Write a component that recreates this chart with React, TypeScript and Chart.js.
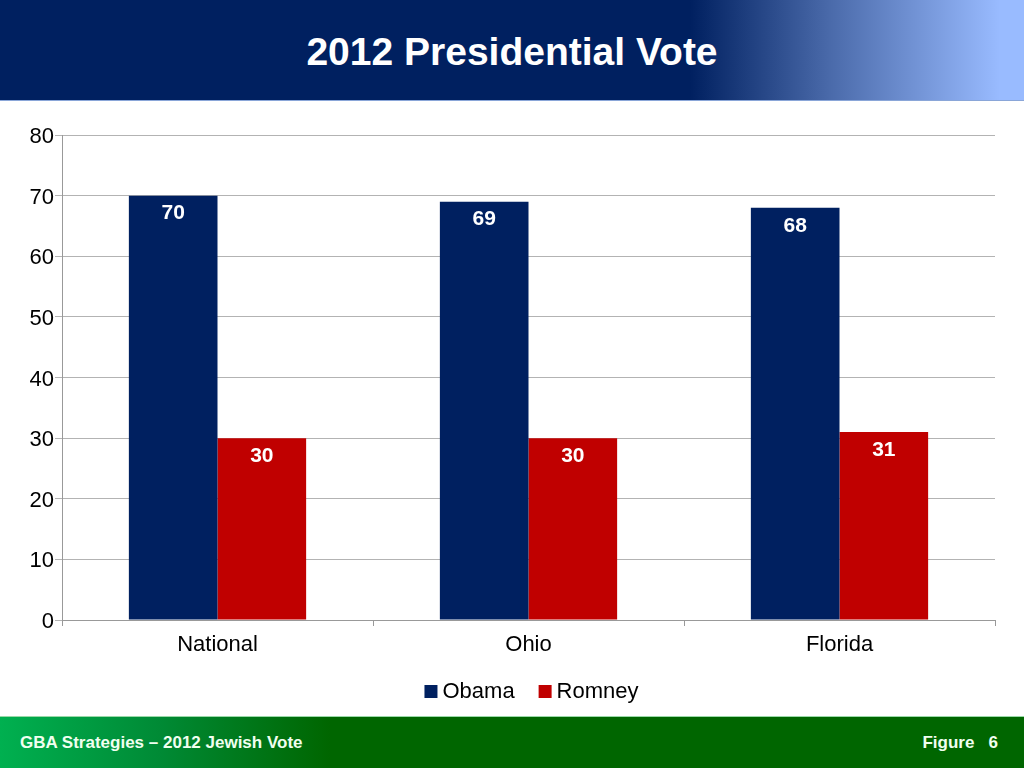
import React, { useEffect, useRef } from "react";
import { Chart, registerables } from "chart.js";

Chart.register(...registerables);

const title = "2012 Presidential Vote";
const categories = ["National", "Ohio", "Florida"];
const seriesNames = ["Obama", "Romney"];
const seriesColors = ["#002060", "#C00000"];
const obamaValues = [70, 69, 68];
const romneyValues = [30, 30, 31];
const yTicks = [0, 10, 20, 30, 40, 50, 60, 70, 80];
const footerLeft = "GBA Strategies – 2012 Jewish Vote";
const footerRight = "Figure   6";

const FONT = "'Liberation Sans', Arial, sans-serif";

const valueLabels = {
  id: "valueLabels",
  afterDatasetsDraw(chart: any) {
    const ctx = chart.ctx;
    ctx.save();
    ctx.fillStyle = "#ffffff";
    ctx.font = "bold 21px " + FONT;
    ctx.textAlign = "center";
    ctx.textBaseline = "middle";
    chart.data.datasets.forEach((ds: any, di: number) => {
      const meta = chart.getDatasetMeta(di);
      meta.data.forEach((bar: any, i: number) => {
        ctx.fillText(String(ds.data[i]), bar.x, bar.y + 18);
      });
    });
    ctx.restore();
  },
};

const customLegend = {
  id: "customLegend",
  afterDraw(chart: any) {
    const ctx = chart.ctx;
    const area = chart.chartArea;
    ctx.save();
    ctx.font = "22px " + FONT;
    ctx.textBaseline = "middle";
    ctx.textAlign = "left";
    const box = 13;
    const gap = 5;
    const itemGap = 24;
    const items = chart.data.datasets.map((ds: any) => ({
      text: ds.label,
      color: ds.backgroundColor,
      w: box + gap + ctx.measureText(ds.label).width,
    }));
    const total =
      items.reduce((a: number, it: any) => a + it.w, 0) + itemGap * (items.length - 1);
    let x = (area.left + area.right) / 2 + 3 - total / 2;
    const y = area.bottom + 71;
    items.forEach((it: any) => {
      ctx.fillStyle = it.color;
      ctx.fillRect(x, y - 6, box, box);
      ctx.fillStyle = "#000000";
      ctx.fillText(it.text, x + box + gap, y + 1);
      x += it.w + itemGap;
    });
    ctx.restore();
  },
};

export default function App() {
  const ref = useRef<HTMLCanvasElement>(null);
  useEffect(() => {
    if (!ref.current) return;
    const chart = new Chart(ref.current, {
      type: "bar",
      data: {
        labels: categories,
        datasets: [
          {
            label: seriesNames[0],
            data: obamaValues,
            backgroundColor: seriesColors[0],
            categoryPercentage: 0.57,
            barPercentage: 1,
          },
          {
            label: seriesNames[1],
            data: romneyValues,
            backgroundColor: seriesColors[1],
            categoryPercentage: 0.57,
            barPercentage: 1,
          },
        ],
      },
      options: {
        animation: false,
        responsive: false,
        maintainAspectRatio: false,
        layout: { padding: { top: 35, right: 29, bottom: 45, left: 0 } },
        plugins: {
          title: { display: false },
          tooltip: { enabled: false },
          legend: { display: false },
        },
        scales: {
          x: {
            grid: {
              display: true,
              offset: true,
              drawOnChartArea: false,
              tickLength: 6,
              color: "#999999",
            },
            border: { color: "#999999" },
            ticks: {
              color: "#000000",
              font: { family: FONT, size: 22 },
              padding: 6,
            },
            afterFit: (s: any) => {
              s.height = 51;
            },
          },
          y: {
            min: 0,
            max: 80,
            afterBuildTicks: (s: any) => {
              s.ticks = yTicks.map((v) => ({ value: v }));
            },
            grid: {
              color: "#b3b3b3",
              tickLength: 7,
            },
            border: { color: "#999999" },
            ticks: {
              color: "#000000",
              font: { family: FONT, size: 22 },
              padding: 1,
              labelOffset: 2,
            },
            afterFit: (s: any) => {
              s.width = 62;
            },
          },
        },
      },
      plugins: [valueLabels, customLegend],
    });
    return () => chart.destroy();
  }, []);

  return (
    <div
      style={{
        position: "fixed",
        left: 0,
        top: 0,
        width: 1024,
        height: 768,
        background: "#ffffff",
        overflow: "hidden",
        fontFamily: FONT,
      }}
    >
      <div
        style={{
          position: "absolute",
          left: 0,
          top: 0,
          width: 1024,
          height: 101,
          background:
            "linear-gradient(to right, #002060 0px, #002060 690px, #4a6aaa 830px, #99bbff 1000px, #99bbff 1024px)",
          borderBottom: "1px solid #8aa6d8",
          boxSizing: "border-box",
        }}
      >
        <div
          style={{
            position: "absolute",
            left: 0,
            width: 1024,
            top: 29,
            textAlign: "center",
            color: "#ffffff",
            fontWeight: "bold",
            fontSize: 39,
            lineHeight: "46px",
          }}
        >
          {title}
        </div>
      </div>
      <canvas
        ref={ref}
        width={1024}
        height={616}
        style={{ position: "absolute", left: 0, top: 100, width: 1024, height: 616 }}
      />
      <div
        style={{
          position: "absolute",
          left: 0,
          top: 716,
          width: 1024,
          height: 52,
          background:
            "linear-gradient(to right, #00b050 0px, #008a35 160px, #006600 330px, #006600 1024px)",
          borderTop: "1px solid #9ad9a8",
          boxSizing: "border-box",
        }}
      >
        <div
          style={{
            position: "absolute",
            left: 20,
            top: 16,
            color: "#f0fff0",
            fontWeight: "bold",
            fontSize: 17,
            lineHeight: "20px",
          }}
        >
          {footerLeft}
        </div>
        <div
          style={{
            position: "absolute",
            right: 26,
            top: 16,
            color: "#f0fff0",
            fontWeight: "bold",
            fontSize: 17,
            lineHeight: "20px",
            whiteSpace: "pre",
          }}
        >
          {footerRight}
        </div>
      </div>
    </div>
  );
}
